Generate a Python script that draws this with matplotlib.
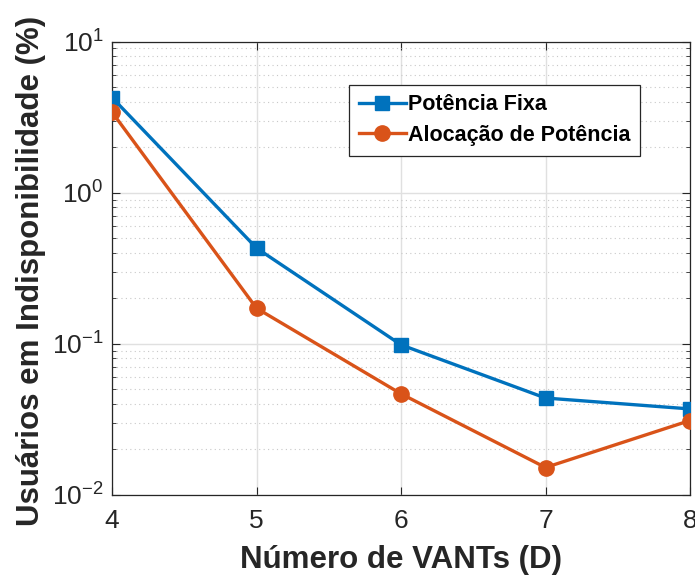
import numpy as np
import matplotlib.pyplot as plt
from matplotlib.ticker import LogLocator, NullFormatter, FuncFormatter

plt.rcParams["font.family"] = ["Liberation Sans", "DejaVu Sans"]
plt.rcParams["mathtext.fontset"] = "custom"
plt.rcParams["mathtext.rm"] = "Liberation Sans"
plt.rcParams["axes.unicode_minus"] = False

num_vants = [4, 5, 6, 7, 8]
potencia_fixa = [4.26, 0.43, 0.0985, 0.0438, 0.0371]
alocacao_potencia = [3.41, 0.172, 0.0467, 0.0152, 0.0311]

blue = "#0072BD"
orange = "#D95319"
dark = "#262626"

fig = plt.figure(figsize=(6.95, 5.79), dpi=100)
ax = fig.add_axes([0.1612, 0.1451, 0.8316, 0.7832])

ax.plot(num_vants, potencia_fixa, color=blue, lw=2.4, marker="s", ms=10,
        label="Potência Fixa", zorder=3)
ax.plot(num_vants, alocacao_potencia, color=orange, lw=2.4, marker="o", ms=11,
        label="Alocação de Potência", zorder=3)

ax.set_yscale("log")
ax.set_xlim(4, 8)
ax.set_ylim(1e-2, 1e1)
ax.set_xticks(num_vants)
ax.yaxis.set_major_locator(LogLocator(base=10, numticks=10))
ax.yaxis.set_major_formatter(
    FuncFormatter(lambda v, pos: r"$\mathregular{10^{%d}}$" % int(round(np.log10(v)))))
ax.yaxis.set_minor_locator(LogLocator(base=10, subs=np.arange(2, 10), numticks=20))
ax.yaxis.set_minor_formatter(NullFormatter())

ax.grid(True, which="major", color="#e0e0e0", lw=1.0, ls="-")
ax.grid(True, which="minor", axis="y", color="#c8c8c8", lw=0.8, ls=(0, (1, 3)))
ax.set_axisbelow(True)

ax.tick_params(which="both", direction="in", top=True, right=True,
               labelsize=19, color=dark, labelcolor=dark)
ax.tick_params(which="major", length=6, width=0.8)
ax.tick_params(axis="x", which="major", pad=10)
ax.tick_params(axis="y", which="major", pad=6)
ax.tick_params(which="minor", length=3, width=0.6)
for s in ax.spines.values():
    s.set_color(dark)
    s.set_linewidth(0.9)

ax.set_xlabel("Número de VANTs (D)", fontsize=22.5, fontweight="bold", color=dark)
ax.set_ylabel("Usuários em Indisponibilidade (%)", fontsize=22.5, fontweight="bold",
              color=dark)
ax.xaxis.set_label_coords(0.5, -0.11)
ax.yaxis.set_label_coords(-0.114, 0.495)

leg = ax.legend(loc="upper left", bbox_to_anchor=(0.41, 0.905),
                prop={"weight": "bold", "size": 15.5}, fancybox=False,
                framealpha=1, edgecolor=dark, borderpad=0.45,
                handlelength=2.2, handletextpad=0.1, labelspacing=0.45,
                borderaxespad=0)
leg.get_frame().set_linewidth(0.9)

fig.savefig("out.png", dpi=100)
